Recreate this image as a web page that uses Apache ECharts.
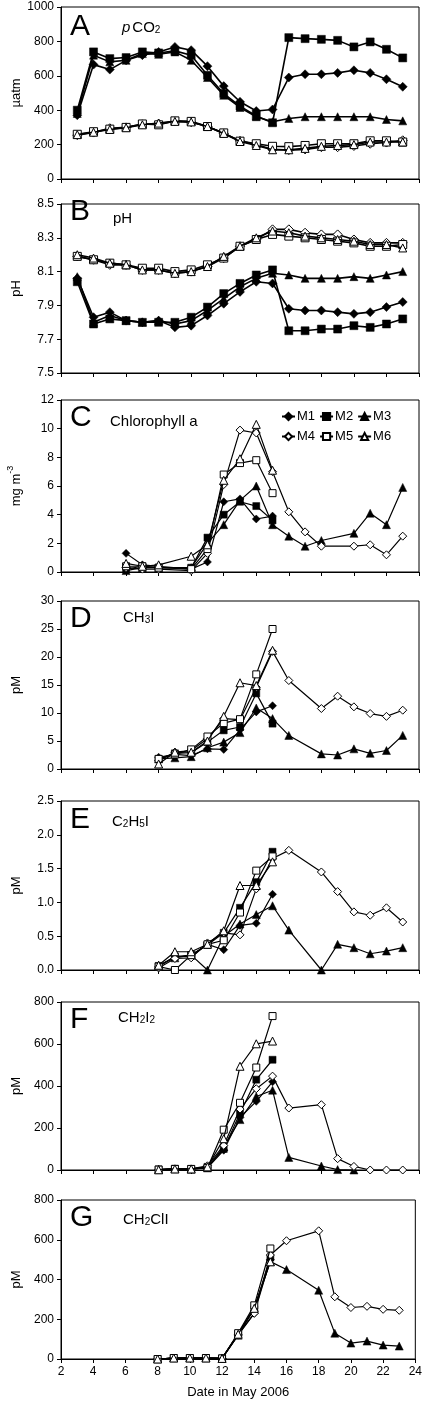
<!DOCTYPE html>
<html><head><meta charset="utf-8">
<script src="https://cdn.jsdelivr.net/npm/echarts@6/dist/echarts.min.js"></script>
<style>html,body{margin:0;padding:0;background:#fff}#c{width:425px;height:1410px}</style>
</head><body><div id="c"></div>
<script>
// ---------- DATA ----------
const seriesNames = ['M1','M2','M3','M4','M5','M6'];
const xTicks = [2,4,6,8,10,12,14,16,18,20,22,24];

const daysAB = [3,4,5,6,7,8,9,10,11,12,13,14,15,16,17,18,19,20,21,22,23];
// A: pCO2 (µatm)
const pco2M1 = [371,665,636,690,720,739,768,749,656,540,449,395,404,590,609,609,617,632,617,580,536];
const pco2M2 = [400,739,700,706,739,733,745,720,603,497,424,366,327,822,816,812,806,768,797,754,704];
const pco2M3 = [381,720,681,690,729,725,739,690,590,487,416,362,333,352,362,362,362,362,362,346,338];
const pco2M4 = [255,270,295,300,318,322,335,330,305,265,222,200,172,168,172,185,185,192,205,212,225];
const pco2M5 = [260,275,290,300,320,315,338,335,305,268,220,205,190,188,195,205,205,205,222,222,215];
const pco2M6 = [258,272,288,298,315,325,335,332,305,265,218,195,170,170,178,190,195,200,215,215,215];
// B: pH
const phM1 = [8.06,7.83,7.86,7.81,7.80,7.81,7.77,7.78,7.84,7.91,7.98,8.04,8.03,7.88,7.87,7.87,7.86,7.85,7.86,7.89,7.92];
const phM2 = [8.04,7.79,7.82,7.81,7.80,7.80,7.80,7.83,7.89,7.97,8.03,8.08,8.11,7.75,7.75,7.76,7.76,7.78,7.77,7.79,7.82];
const phM3 = [8.07,7.80,7.84,7.81,7.80,7.81,7.79,7.81,7.87,7.94,8.01,8.06,8.09,8.08,8.06,8.06,8.06,8.07,8.06,8.08,8.10];
const phM4 = [8.19,8.17,8.14,8.14,8.11,8.11,8.09,8.10,8.13,8.18,8.25,8.29,8.35,8.35,8.33,8.32,8.32,8.29,8.27,8.27,8.27];
const phM5 = [8.19,8.17,8.15,8.14,8.12,8.12,8.10,8.11,8.14,8.18,8.25,8.29,8.32,8.31,8.30,8.29,8.28,8.27,8.25,8.25,8.26];
const phM6 = [8.20,8.18,8.15,8.14,8.11,8.11,8.09,8.10,8.13,8.19,8.25,8.30,8.34,8.33,8.31,8.30,8.29,8.28,8.26,8.26,8.24];

// C: Chlorophyll a (mg m-3)
const daysC = [6,7,8,10,11,12,13,14,15];
const daysCext = [6,7,8,10,11,12,13,14,15,16,17,18,20,21,22,23];
const chlM1 = [1.3,0.5,0.4,0.2,0.7,4.9,5.1,3.7,3.9];
const chlM2 = [0.2,0.4,0.3,0.3,2.4,4.0,4.9,4.6,3.6];
const chlM3 = [0.1,0.3,0.3,0.3,2.0,3.3,5.0,6.0,3.3,2.5,1.8,2.2,2.7,4.1,3.3,5.9];
const chlM4 = [0.3,0.2,0.2,0.1,1.3,6.1,9.9,9.7,7.0,4.2,2.8,1.8,1.8,1.9,1.2,2.5];
const chlM5 = [0.4,0.4,0.3,0.2,1.6,6.8,7.6,7.8,5.5];
const chlM6 = [0.6,0.4,0.5,1.1,1.9,6.4,7.9,10.3,7.1];

// D-G common days
const daysDG = [8,9,10,11,12,13,14,15];
const daysDGext = [8,9,10,11,12,13,14,15,16,18,19,20,21,22,23];
const daysFM3 = [8,9,10,11,12,13,14,15,16,18,19,20];

// D: CH3I (pM)
const ch3iM1 = [2.1,2.6,2.4,3.6,3.5,7.0,10.2,11.3];
const ch3iM2 = [1.8,2.8,2.9,4.8,6.9,7.5,13.5,8.1];
const ch3iM3 = [1.8,2.0,2.2,3.8,4.8,6.5,10.9,9.0,6.0,2.7,2.5,3.6,2.8,3.3,6.0];
const ch3iM4 = [1.5,3.0,3.3,5.4,9.0,8.8,14.6,21.0,15.8,10.8,13.0,11.1,9.9,9.4,10.5];
const ch3iM5 = [1.8,2.6,3.5,5.8,8.2,8.9,16.9,25.0];
const ch3iM6 = [0.9,3.0,3.0,5.0,9.4,15.4,14.9,21.2];

// E: C2H5I (pM)
const c2h5iM1 = [0.05,0.20,0.20,0.38,0.30,0.66,0.69,1.12];
const c2h5iM2 = [0.06,0.20,0.22,0.37,0.55,0.92,1.30,1.75];
const c2h5iM3 = [0.07,0.18,0.22,0.00,0.50,0.68,0.82,0.95,0.59,0.00,0.38,0.33,0.24,0.28,0.33];
const c2h5iM4 = [0.03,0.17,0.18,0.40,0.55,0.52,1.20,1.65,1.77,1.45,1.16,0.86,0.81,0.92,0.71];
const c2h5iM5 = [0.05,0.00,0.22,0.38,0.44,0.85,1.47,1.68];
const c2h5iM6 = [0.07,0.27,0.27,0.38,0.58,1.25,1.25,1.60];

// F: CH2I2 (pM)
const ch2i2M1 = [2,5,5,10,94,250,327,420];
const ch2i2M2 = [3,6,5,15,100,270,430,525];
const ch2i2M3 = [2,5,4,10,110,240,350,380,60,19,2,0];
const ch2i2M4 = [0,5,5,20,117,290,387,447,295,311,54,17,0,0,0];
const ch2i2M5 = [2,5,5,10,192,320,488,733];
const ch2i2M6 = [1,5,5,15,149,494,601,614];

// G: CH2ClI (pM)
const ch2cliM1 = [0,5,5,5,3,120,230,500];
const ch2cliM2 = [0,5,5,5,3,125,250,510];
const ch2cliM3 = [0,5,5,5,3,120,260,490,450,346,130,80,90,70,65];
const ch2cliM4 = [0,5,5,5,3,125,230,523,595,645,313,259,265,250,245];
const ch2cliM5 = [0,5,5,5,3,130,270,556];
const ch2cliM6 = [0,5,5,5,3,125,255,489];

// ---------- LAYOUT ----------
const FONT = '"Liberation Sans", Arial, Helvetica, sans-serif';
const GL = 61, GR = 6;
const panels = [
  {top:7,   h:172, min:0,   max:1000, step:200, dec:0, yname:[['µatm']], letter:'A',
   days:[daysAB,daysAB,daysAB,daysAB,daysAB,daysAB], vals:[pco2M1,pco2M2,pco2M3,pco2M4,pco2M5,pco2M6], big:true,
   title:[{t:'p',it:true},{t:'CO',gap:2},{t:'2',sub:true}], tx:122, tb:33, lb:37},
  {top:204, h:169, min:7.5, max:8.5,  step:0.2, dec:1, yname:[['pH']], letter:'B',
   days:[daysAB,daysAB,daysAB,daysAB,daysAB,daysAB], vals:[phM1,phM2,phM3,phM4,phM5,phM6], big:true,
   title:[{t:'pH'}], tx:113, tb:224, lb:222},
  {top:400, h:172, min:0,   max:12,   step:2,   dec:0, letter:'C', ysup:true,
   days:[daysC,daysC,daysCext,daysCext,daysC,daysC], vals:[chlM1,chlM2,chlM3,chlM4,chlM5,chlM6],
   title:[{t:'Chlorophyll a'}], tx:110, tb:427, lb:428},
  {top:601, h:168, min:0,   max:30,   step:5,   dec:0, yname:[['pM']], letter:'D',
   days:[daysDG,daysDG,daysDGext,daysDGext,daysDG,daysDG], vals:[ch3iM1,ch3iM2,ch3iM3,ch3iM4,ch3iM5,ch3iM6],
   title:[{t:'CH'},{t:'3',sub:true},{t:'I'}], tx:123, tb:623, lb:629},
  {top:801, h:169, min:0,   max:2.5,  step:0.5, dec:1, yname:[['pM']], letter:'E',
   days:[daysDG,daysDG,daysDGext,daysDGext,daysDG,daysDG], vals:[c2h5iM1,c2h5iM2,c2h5iM3,c2h5iM4,c2h5iM5,c2h5iM6],
   title:[{t:'C'},{t:'2',sub:true},{t:'H'},{t:'5',sub:true},{t:'I'}], tx:112, tb:827, lb:830},
  {top:1002, h:168, min:0,  max:800,  step:200, dec:0, yname:[['pM']], letter:'F',
   days:[daysDG,daysDG,daysFM3,daysDGext,daysDG,daysDG], vals:[ch2i2M1,ch2i2M2,ch2i2M3,ch2i2M4,ch2i2M5,ch2i2M6],
   title:[{t:'CH'},{t:'2',sub:true},{t:'I'},{t:'2',sub:true}], tx:118, tb:1023, lb:1030},
  {top:1200, h:159, min:0,  max:800,  step:200, dec:0, yname:[['pM']], letter:'G', last:true,
   days:[daysDG,daysDG,daysDGext,daysDGext,daysDG,daysDG], vals:[ch2cliM1,ch2cliM2,ch2cliM3,ch2cliM4,ch2cliM5,ch2cliM6],
   title:[{t:'CH'},{t:'2',sub:true},{t:'ClI'}], tx:123, tb:1225, lb:1228}
];

const symbols = ['diamond','rect','triangle','diamond','rect','triangle'];
const filled = [true,true,true,false,false,false];

const cv = document.createElement('canvas').getContext('2d');
function mw(t, fs, it){ cv.font = (it?'italic ':'') + fs + 'px ' + FONT; return cv.measureText(t).width; }

const graphics = [];
// horizontal run of text with subscripts, given left x and baseline
function run(x, base, parts, fs, subFs){
  let cx = x;
  parts.forEach(p => {
    if (p.gap) cx += p.gap;
    const f = p.sub ? subFs : fs;
    const b = p.sub ? base + 1 : base;
    graphics.push({type:'text', x: cx, y: b - 0.347*f, silent:true,
      style:{text:p.t, font:(p.it?'italic ':'') + f + 'px ' + FONT, fill:'#000',
        textAlign:'left', textVerticalAlign:'middle', align:'left', verticalAlign:'middle'}});
    cx += mw(p.t, f, p.it);
  });
}
// rotated (bottom-to-top) y-axis title centred at cx, cy
function vtitle(cx, cy, parts, fs, supFs){
  let W = 0; parts.forEach(p => W += mw(p.t, p.sup?supFs:fs));
  let lx = -W/2; const kids = [];
  parts.forEach(p => {
    const f = p.sup ? supFs : fs;
    kids.push({type:'text', x: lx, y: p.sup ? -5 : 0, silent:true,
      style:{text:p.t, font: f + 'px ' + FONT, fill:'#000', textAlign:'left', textVerticalAlign:'middle', align:'left', verticalAlign:'middle'}});
    lx += mw(p.t, f);
  });
  graphics.push({type:'group', x: cx, y: cy, rotation: Math.PI/2, children: kids, silent:true});
}

const grid = [], xAxis = [], yAxis = [], series = [];
panels.forEach((P, i) => {
  grid.push({left:GL, right:GR, top:P.top, height:P.h, show:true, borderColor:'#000', borderWidth:1, backgroundColor:'transparent'});
  xAxis.push({gridIndex:i, type:'value', min:2, max:24, interval:2,
    axisLine:{show:true, onZero:false, lineStyle:{color:'#000', width:1}},
    axisTick:{show:true, inside:false, length:4, lineStyle:{color:'#000'}},
    axisLabel:{show:!!P.last, color:'#000', fontSize:12, fontFamily:FONT, margin:7},
    splitLine:{show:false},
    name: P.last ? 'Date in May 2006' : '', nameLocation:'middle', nameGap:27,
    nameTextStyle:{color:'#000', fontSize:13, fontFamily:FONT}});
  yAxis.push({gridIndex:i, type:'value', min:P.min, max:P.max, interval:P.step,
    axisLine:{show:true, lineStyle:{color:'#000', width:1}},
    axisTick:{show:true, inside:false, length:4, lineStyle:{color:'#000'}},
    axisLabel:{color:'#000', fontSize:12, fontFamily:FONT, margin:7, formatter: v => Number(v).toFixed(P.dec)},
    splitLine:{show:false}});
  const lw = P.big ? 1.6 : 1.2;
  seriesNames.forEach((nm, k) => {
    const d = P.days[k], v = P.vals[k];
    const sz = P.big ? (k%3===0 ? 9 : 8) : (k%3===0 ? 8 : (k%3===1 ? 7 : 8));
    series.push({type:'line', name:nm, xAxisIndex:i, yAxisIndex:i,
      data: d.map((x, j) => [x, v[j]]),
      symbol: symbols[k], symbolSize: sz, showSymbol:true, showAllSymbol:true,
      lineStyle:{color:'#000', width:lw},
      itemStyle: filled[k] ? {color:'#000', borderColor:'#000', borderWidth:0.5}
                           : {color:'#fff', borderColor:'#000', borderWidth:1},
      emphasis:{disabled:true}, z: 2 + k, animation:false});
  });
  // panel letter
  graphics.push({type:'text', x:70, y:P.lb - 0.347*30, silent:true,
    style:{text:P.letter, font:'30px ' + FONT, fill:'#000', textAlign:'left', textVerticalAlign:'middle', align:'left', verticalAlign:'middle'}});
  // panel title
  run(P.tx, P.tb, P.title, 15, 10);
  // y axis title
  const cy = P.top + P.h/2;
  if (P.ysup) vtitle(16, cy, [{t:'mg m'},{t:'-3',sup:true}], 13, 9);
  else vtitle(16, cy, [{t:P.yname[0][0]}], 13, 9);
});

const legendCommon = {padding:0, itemWidth:13, itemHeight:9, itemGap:4, icon:null,
  textStyle:{color:'#000', fontSize:13, fontFamily:FONT, padding:[0,0,0,-3]}, selectedMode:false, orient:'horizontal'};
const legend = [
  Object.assign({}, legendCommon, {data:['M1','M2','M3'], left:281, top:410}),
  Object.assign({}, legendCommon, {data:['M4','M5','M6'], left:281, top:430})
];
legend.forEach(l => delete l.icon);

const chart = echarts.init(document.getElementById('c'), null, {renderer:'canvas'});
chart.setOption({animation:false, backgroundColor:'#fff', grid, xAxis, yAxis, series, legend,
  graphic:{elements:graphics}});
</script></body></html>
